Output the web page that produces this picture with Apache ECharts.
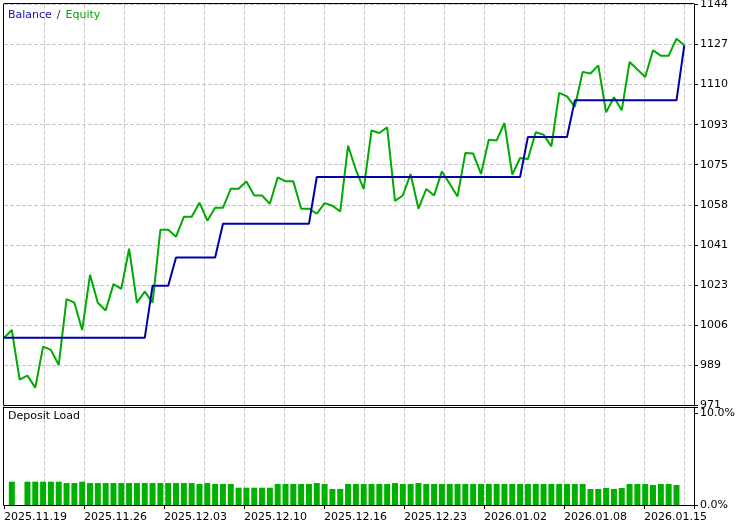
<!DOCTYPE html>
<html><head><meta charset="utf-8">
<style>html,body{margin:0;padding:0;background:#fff}#c{width:744px;height:523px}</style>
<script src="https://cdn.jsdelivr.net/npm/echarts@6/dist/echarts.min.js"></script>
</head><body><div id="c"></div>
<script>
// ---- data ----
const dateLabels = ['2025.11.19','2025.11.26','2025.12.03','2025.12.10','2025.12.16','2025.12.23','2026.01.02','2026.01.08','2026.01.15'];
const yTickLabels = [971, 989, 1006, 1023, 1041, 1058, 1075, 1093, 1110, 1127, 1144];
const loadTickLabels = ['0.0%', '10.0%'];
const yMin = 971.4, yMax = 1144.4;

const balance = [
1000.4,1000.4,1000.4,1000.4,1000.4,1000.4,1000.4,1000.4,1000.4,1000.4,
1000.4,1000.4,1000.4,1000.4,1000.4,1000.4,1000.4,1000.4,1000.4,1022.9,
1022.9,1022.9,1035.1,1035.1,1035.1,1035.1,1035.1,1035.1,1049.7,1049.7,
1049.7,1049.7,1049.7,1049.7,1049.7,1049.7,1049.7,1049.7,1049.7,1049.7,
1069.9,1069.9,1069.9,1069.9,1069.9,1069.9,1069.9,1069.9,1069.9,1069.9,
1069.9,1069.9,1069.9,1069.9,1069.9,1069.9,1069.9,1069.9,1069.9,1069.9,
1069.9,1069.9,1069.9,1069.9,1069.9,1069.9,1069.9,1087.2,1087.2,1087.2,
1087.2,1087.2,1087.2,1103.0,1103.0,1103.0,1103.0,1103.0,1103.0,1103.0,
1103.0,1103.0,1103.0,1103.0,1103.0,1103.0,1103.0,1126.7
];
const equity = [
1000.4,1003.8,982.4,984.1,978.9,996.6,995.2,988.7,1017.1,1015.6,
1003.8,1027.6,1015.6,1012.2,1023.6,1021.6,1038.9,1015.6,1020.4,1015.6,
1047.1,1047.1,1044.1,1052.7,1052.7,1058.8,1051.0,1056.6,1056.6,1064.8,
1064.8,1067.9,1061.9,1061.9,1058.3,1069.7,1068.0,1068.0,1056.2,1056.2,
1054.0,1058.6,1057.5,1055.0,1083.4,1073.0,1064.7,1090.0,1088.9,1091.3,
1059.6,1061.9,1071.2,1056.2,1064.7,1061.9,1072.3,1067.0,1061.5,1080.3,
1080.0,1071.2,1086.0,1085.7,1093.2,1070.9,1078.1,1077.7,1089.2,1088.2,
1083.1,1106.2,1104.7,1100.2,1115.3,1114.6,1118.1,1097.8,1104.3,1098.7,
1119.6,1116.3,1113.1,1124.6,1122.3,1122.3,1129.6,1126.8
];
const depositLoad = [
null,2.55,null,2.55,2.55,2.55,2.55,2.55,2.40,2.40,
2.55,2.40,2.40,2.40,2.40,2.40,2.40,2.40,2.40,2.40,
2.40,2.40,2.40,2.40,2.40,2.30,2.40,2.30,2.30,2.30,
1.89,1.89,1.89,1.89,1.89,2.30,2.30,2.30,2.30,2.30,
2.40,2.30,1.75,1.75,2.30,2.30,2.30,2.30,2.30,2.30,
2.40,2.30,2.30,2.40,2.30,2.30,2.30,2.30,2.30,2.30,
2.30,2.30,2.30,2.30,2.30,2.30,2.30,2.30,2.30,2.30,
2.30,2.30,2.30,2.30,2.30,1.75,1.75,1.86,1.75,1.86,
2.30,2.30,2.30,2.19,2.30,2.30,2.19,null
];

// ---- layout constants ----
const xMax = 88.24, gridStep = 5.115, labelStep = 10.23, loadMax = 10.71;
const FONT = 'DejaVu Sans';
const dash = {color:'#c8c8c8', type:[4,2], width:1};
const blackLine = {show:true, onZero:false, lineStyle:{color:'#000', width:1}};
const noTick = {show:false}, noLabel = {show:false}, noSplit = {show:false};
const lbl = {color:'#000', fontFamily:FONT, fontSize:11};

const chart = echarts.init(document.getElementById('c'), null, {renderer:'canvas'});
chart.setOption({
  animation:false,
  backgroundColor:'#fff',
  title:[
    {left:8, top:6, padding:0, text:'{b|Balance} {s|/} {e|Equity}',
     textStyle:{rich:{
       b:{color:'#1010b4', fontFamily:FONT, fontSize:11, fontWeight:'normal'},
       s:{color:'#202060', fontFamily:FONT, fontSize:11, fontWeight:'normal'},
       e:{color:'#00a800', fontFamily:FONT, fontSize:11, fontWeight:'normal'}}}},
    {left:8, top:411, padding:0, text:'Deposit Load',
     textStyle:{color:'#000', fontFamily:FONT, fontSize:11, fontWeight:'normal'}}
  ],
  grid:[
    {left:4, right:50, top:4.5, height:400.5, outerBoundsMode:'none'},
    {left:4, right:50, top:407, height:98, outerBoundsMode:'none'}
  ],
  xAxis:[
    {type:'value', gridIndex:0, position:'bottom', min:0, max:xMax, interval:gridStep,
     axisLine:blackLine, axisTick:noTick, axisLabel:noLabel,
     splitLine:{show:true, lineStyle:dash, showMinLine:false, showMaxLine:false}},
    {type:'value', gridIndex:0, position:'top', min:0, max:xMax, offset:1.5,
     axisLine:blackLine, axisTick:noTick, axisLabel:noLabel, splitLine:noSplit},
    {type:'value', gridIndex:1, position:'bottom', min:0, max:xMax, interval:labelStep,
     axisLine:blackLine, axisTick:{show:true, length:4, lineStyle:{color:'#000'}},
     axisLabel:Object.assign({show:true, margin:7, align:'left', showMinLabel:true,
       formatter:(v)=>{const i=Math.round(v/labelStep); return (Math.abs(i*labelStep-v)<1e-3 && dateLabels[i]) ? dateLabels[i] : '';}}, lbl),
     splitLine:noSplit},
    {type:'value', gridIndex:1, position:'top', min:0, max:xMax, interval:gridStep,
     axisLine:blackLine, axisTick:noTick, axisLabel:noLabel,
     splitLine:{show:true, lineStyle:dash, showMinLine:false, showMaxLine:false}}
  ],
  yAxis:[
    {type:'value', gridIndex:0, position:'left', min:yMin, max:yMax, offset:1,
     axisLine:blackLine, axisTick:noTick, axisLabel:noLabel, splitLine:noSplit},
    {type:'value', gridIndex:0, position:'right', min:0, max:yTickLabels.length-1, interval:1,
     axisLine:blackLine, axisTick:{show:true, length:4, lineStyle:{color:'#000'}},
     axisLabel:Object.assign({show:true, margin:6, padding:[3,0,0,0], showMinLabel:true, showMaxLabel:true,
       formatter:(v)=>{const t=yTickLabels[Math.round(v)]; return t===undefined?'':String(t);}}, lbl),
     splitLine:{show:true, lineStyle:dash, showMinLine:false, showMaxLine:true}},
    {type:'value', gridIndex:1, position:'right', min:0, max:loadMax, interval:10,
     axisLine:blackLine, axisTick:{show:true, length:4, lineStyle:{color:'#000'}},
     axisLabel:Object.assign({show:true, margin:6, padding:[6,0,0,0], showMinLabel:true,
       formatter:(v)=>{const i=Math.round(v/10); return (Math.abs(i*10-v)<1e-3 && loadTickLabels[i]) ? loadTickLabels[i] : '';}}, lbl),
     splitLine:noSplit},
    {type:'value', gridIndex:1, position:'left', min:0, max:loadMax, offset:1,
     axisLine:blackLine, axisTick:noTick, axisLabel:noLabel, splitLine:noSplit}
  ],
  series:[
    {type:'line', name:'Equity', xAxisIndex:0, yAxisIndex:0, silent:true,
     data:equity.map((v,i)=>[i,v]), symbol:'none',
     lineStyle:{color:'#00aa00', width:2}, z:2},
    {type:'line', name:'Balance', xAxisIndex:0, yAxisIndex:0, silent:true,
     data:balance.map((v,i)=>[i,v]), symbol:'none',
     lineStyle:{color:'#0000aa', width:2}, z:3},
    {type:'bar', name:'Deposit Load', xAxisIndex:2, yAxisIndex:2, silent:true,
     data:depositLoad.map((v,i)=>[i,v]), barWidth:6,
     itemStyle:{color:'#00b000'}}
  ]
});
</script></body></html>
